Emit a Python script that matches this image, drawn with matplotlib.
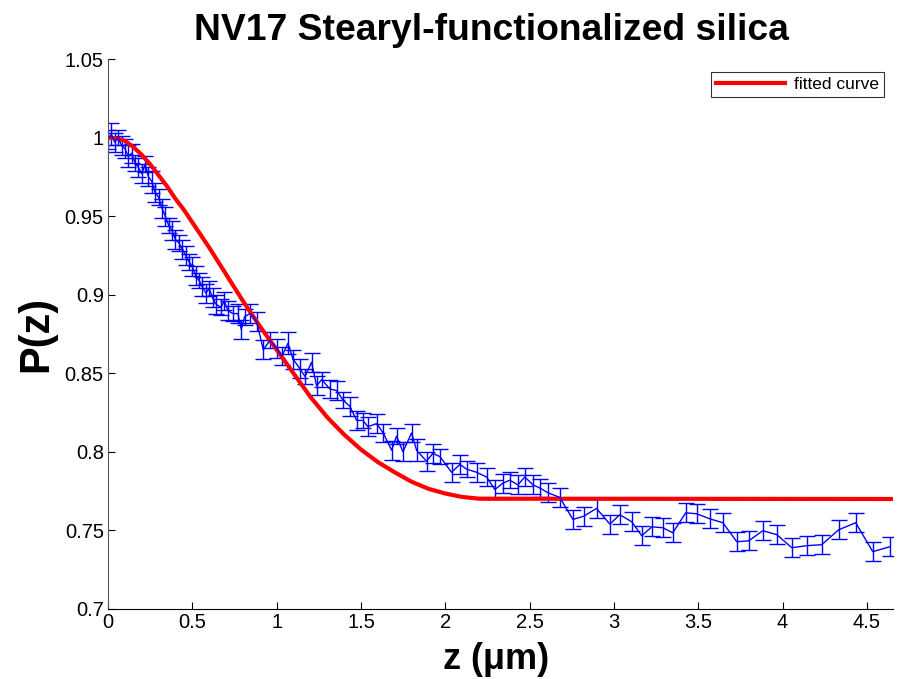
import numpy as np
import matplotlib
matplotlib.use('Agg')
import matplotlib.pyplot as plt

plt.rcParams['font.family'] = ['Liberation Sans', 'DejaVu Sans']

z = [0.00, 0.02, 0.04, 0.06, 0.08, 0.10, 0.12, 0.14, 0.16, 0.18,
     0.20, 0.22, 0.24, 0.26, 0.28, 0.30, 0.32, 0.34, 0.36, 0.38,
     0.40, 0.42, 0.44, 0.46, 0.48, 0.50, 0.52, 0.54, 0.56, 0.58,
     0.60, 0.62, 0.64, 0.67, 0.69, 0.71, 0.74, 0.77, 0.79, 0.81,
     0.842, 0.881, 0.921, 0.960, 1.000, 1.031, 1.067, 1.097, 1.138, 1.168,
     1.207, 1.237, 1.267, 1.316, 1.356, 1.393, 1.434, 1.474, 1.512, 1.541,
     1.593, 1.632, 1.682, 1.711, 1.749, 1.800, 1.830, 1.889, 1.926, 1.968,
     2.037, 2.087, 2.126, 2.186, 2.245, 2.294, 2.341, 2.383, 2.430, 2.472,
     2.520, 2.561, 2.608, 2.679, 2.757, 2.820, 2.897, 2.976, 3.035, 3.106,
     3.165, 3.225, 3.290, 3.349, 3.426, 3.491, 3.568, 3.646, 3.729, 3.800,
     3.883, 3.966, 4.055, 4.144, 4.232, 4.333, 4.434, 4.535, 4.636]
p = [0.999, 1.002, 0.997, 1.000, 0.995, 0.993, 0.988, 0.990, 0.984, 0.981,
     0.977, 0.983, 0.975, 0.972, 0.965, 0.962, 0.955, 0.950, 0.944, 0.941,
     0.935, 0.933, 0.929, 0.925, 0.921, 0.918, 0.912, 0.909, 0.905, 0.901,
     0.904, 0.898, 0.894, 0.892, 0.896, 0.890, 0.888, 0.888, 0.878, 0.886,
     0.888, 0.883, 0.865, 0.871, 0.866, 0.861, 0.869, 0.859, 0.853, 0.848,
     0.857, 0.842, 0.846, 0.840, 0.839, 0.833, 0.829, 0.820, 0.820, 0.816,
     0.818, 0.812, 0.801, 0.810, 0.800, 0.812, 0.801, 0.794, 0.799, 0.797,
     0.787, 0.792, 0.789, 0.787, 0.784, 0.776, 0.780, 0.782, 0.779, 0.784,
     0.779, 0.777, 0.774, 0.771, 0.757, 0.759, 0.764, 0.754, 0.760, 0.7555,
     0.7466, 0.7523, 0.7517, 0.7485, 0.7612, 0.7606, 0.7574, 0.7549, 0.7428, 0.7434,
     0.7498, 0.7473, 0.7390, 0.7403, 0.7409, 0.7504, 0.7549, 0.7365, 0.7396]
err = [0.006, 0.007, 0.006, 0.005, 0.006, 0.006, 0.007, 0.006, 0.005, 0.006,
       0.006, 0.005, 0.006, 0.007, 0.006, 0.005, 0.006, 0.006, 0.005, 0.006,
       0.006, 0.005, 0.006, 0.006, 0.005, 0.006, 0.006, 0.005, 0.006, 0.006,
       0.005, 0.006, 0.006, 0.005, 0.006, 0.006, 0.005, 0.006, 0.006, 0.005,
       0.006, 0.006, 0.006, 0.005, 0.006, 0.006, 0.007, 0.006, 0.006, 0.005,
       0.006, 0.006, 0.005, 0.006, 0.006, 0.005, 0.006, 0.006, 0.005, 0.006,
       0.006, 0.006, 0.006, 0.005, 0.006, 0.006, 0.007, 0.006, 0.006, 0.005,
       0.006, 0.006, 0.005, 0.006, 0.006, 0.006, 0.006, 0.005, 0.006, 0.006,
       0.006, 0.006, 0.006, 0.006, 0.006, 0.006, 0.006, 0.006, 0.006, 0.006,
       0.006, 0.006, 0.006, 0.006, 0.006, 0.006, 0.006, 0.006, 0.006, 0.006,
       0.006, 0.006, 0.006, 0.006, 0.006, 0.006, 0.006, 0.006, 0.006]

# fitted curve
z_fit = [0.0, 0.05, 0.1, 0.15, 0.2, 0.25, 0.3, 0.35, 0.4, 0.45,
         0.5, 0.6, 0.7, 0.8, 0.9, 1.0, 1.1, 1.2, 1.3, 1.4,
         1.5, 1.6, 1.7, 1.8, 1.9, 2.0, 2.1, 2.2, 4.7]
p_fit = [1.000, 0.9995, 0.998, 0.994, 0.989, 0.983, 0.976, 0.969, 0.961, 0.954,
         0.946, 0.930, 0.913, 0.896, 0.880, 0.865, 0.850, 0.835, 0.822, 0.811,
         0.8015, 0.7935, 0.787, 0.781, 0.7765, 0.7735, 0.7713, 0.7702, 0.770]

xticks = [0, 0.5, 1, 1.5, 2, 2.5, 3, 3.5, 4, 4.5]
yticks = [0.7, 0.75, 0.8, 0.85, 0.9, 0.95, 1.0, 1.05]

fig = plt.figure(figsize=(8.98, 6.79), dpi=100)
ax = fig.add_axes([0.1203, 0.1031, 0.8741, 0.81])

ax.errorbar(z, p, yerr=err, color='#0000ff', lw=1.0, elinewidth=1.0,
            capsize=6, capthick=1.0)
ax.plot(z_fit, p_fit, color='#ff0000', lw=3.0, label='fitted curve')

ax.set_xlim(0, 4.655)
ax.set_ylim(0.7, 1.05)
ax.set_xticks(xticks)
ax.set_xticklabels(['0', '0.5', '1', '1.5', '2', '2.5', '3', '3.5', '4', '4.5'])
ax.set_yticks(yticks)
ax.set_yticklabels(['0.7', '0.75', '0.8', '0.85', '0.9', '0.95', '1', '1.05'])
ax.tick_params(direction='in', length=5, labelsize=14.5, width=0.8, pad=3)
ax.spines['top'].set_visible(False)
ax.spines['right'].set_visible(False)
ax.spines['left'].set_color('#555555')

ax.set_title('NV17 Stearyl-functionalized silica', fontsize=26.8, fontweight='bold',
             pad=14, x=0.488)
ax.set_xlabel('z (\u03bcm)', fontsize=26, fontweight='bold', labelpad=7, x=0.494)
ax.set_ylabel('P(z)', fontsize=30, fontweight='bold', labelpad=6)

leg = ax.legend(loc='upper right', frameon=True, fancybox=False,
                edgecolor='black', handlelength=4.0, borderpad=0.3,
                handletextpad=0.5, bbox_to_anchor=(1.0, 0.993),
                prop={'size': 12.5})
leg.get_frame().set_linewidth(0.8)

fig.savefig('out.png', dpi=100)
